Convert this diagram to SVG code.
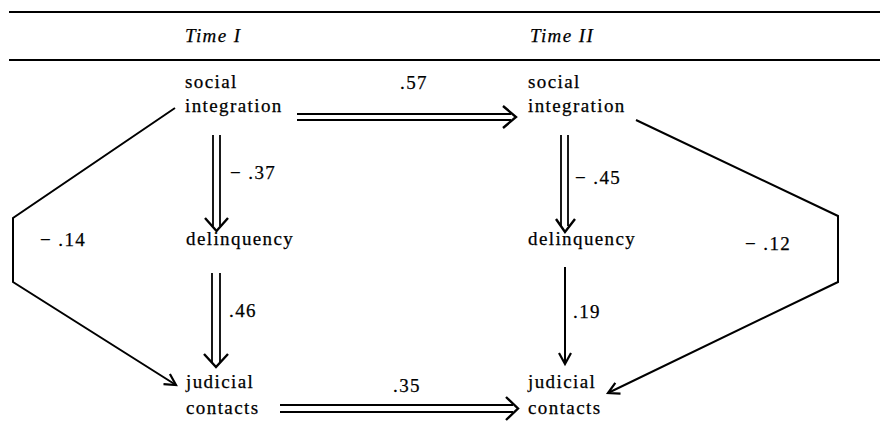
<svg xmlns="http://www.w3.org/2000/svg" width="880" height="426" viewBox="0 0 880 426">
  <defs>
    <marker id="tip" markerUnits="userSpaceOnUse" markerWidth="16" markerHeight="16" viewBox="0 0 16 16" refX="13" refY="8" orient="auto">
      <path d="M2,2 L13,8 L2,14" fill="none" stroke="#000" stroke-width="2.2"/>
    </marker>
  </defs>
  <style>
    text { font-family: "Liberation Serif", "DejaVu Serif", serif; font-size: 19px; letter-spacing: 1.4px; fill: #000; stroke: #000; stroke-width: 0.25px; }
    .head { font-style: italic; }
    .rule { stroke: #000; stroke-width: 1.8; }
    .rail { stroke: #000; stroke-width: 1.8; fill: none; }
    .chev { stroke: #000; stroke-width: 2.4; fill: none; }
    .link { stroke: #000; stroke-width: 2; fill: none; }
  </style>
  <rect width="880" height="426" fill="#fff"/>

  <!-- table rules and column heads -->
  <line class="rule" x1="9" y1="12" x2="880" y2="12"/>
  <line class="rule" x1="9" y1="60" x2="880" y2="60"/>
  <text class="head" x="185" y="42">Time I</text>
  <text class="head" x="530" y="42">Time II</text>

  <!-- variables -->
  <g id="si1">
    <text x="185" y="88">social</text>
    <text x="185" y="112">integration</text>
  </g>
  <g id="del1">
    <text x="186" y="245">delinquency</text>
  </g>
  <g id="jc1">
    <text x="186" y="388">judicial</text>
    <text x="186" y="414">contacts</text>
  </g>
  <g id="si2">
    <text x="528" y="88">social</text>
    <text x="528" y="112">integration</text>
  </g>
  <g id="del2">
    <text x="528" y="245">delinquency</text>
  </g>
  <g id="jc2">
    <text x="528" y="388">judicial</text>
    <text x="528" y="414">contacts</text>
  </g>

  <!-- paths with coefficients -->
  <g id="connectors">
    <!-- social integration I -> social integration II -->
    <line class="rail" x1="297" y1="114" x2="511" y2="114"/>
    <line class="rail" x1="297" y1="120" x2="511" y2="120"/>
    <path class="chev" d="M503,106 L516,117 L503,128"/>
    <text x="400" y="89">.57</text>

    <!-- social integration I -> delinquency I -->
    <line class="rail" x1="213" y1="135" x2="213" y2="226"/>
    <line class="rail" x1="220" y1="135" x2="220" y2="226"/>
    <path class="chev" d="M205,218 L216.5,231 L228,218"/>
    <text x="230" y="179">− .37</text>

    <!-- delinquency I -> judicial contacts I -->
    <line class="rail" x1="212" y1="273" x2="212" y2="362"/>
    <line class="rail" x1="220" y1="273" x2="220" y2="362"/>
    <path class="chev" d="M204,354 L216,367 L228,354"/>
    <text x="229" y="317">.46</text>

    <!-- judicial contacts I -> judicial contacts II -->
    <line class="rail" x1="280" y1="405" x2="513" y2="405"/>
    <line class="rail" x1="280" y1="412" x2="513" y2="412"/>
    <path class="chev" d="M506,397 L518,408.5 L506,420"/>
    <text x="393" y="392">.35</text>

    <!-- social integration II -> delinquency II -->
    <line class="rail" x1="561" y1="135" x2="561" y2="226"/>
    <line class="rail" x1="568" y1="135" x2="568" y2="226"/>
    <path class="chev" d="M556,219 L565,232 L575,219"/>
    <text x="575" y="184">− .45</text>

    <!-- delinquency II -> judicial contacts II -->
    <line class="link" x1="565" y1="267" x2="565" y2="364" marker-end="url(#tip)"/>
    <text x="573" y="318">.19</text>

    <!-- social integration I -> judicial contacts I -->
    <path class="link" d="M175,108 L13,218 L13,282 L176,385" marker-end="url(#tip)"/>
    <text x="40" y="246">− .14</text>

    <!-- social integration II -> judicial contacts II -->
    <path class="link" d="M636,120 L838,216 L838,282 L608,393" marker-end="url(#tip)"/>
    <text x="745" y="250">− .12</text>
  </g>
</svg>
